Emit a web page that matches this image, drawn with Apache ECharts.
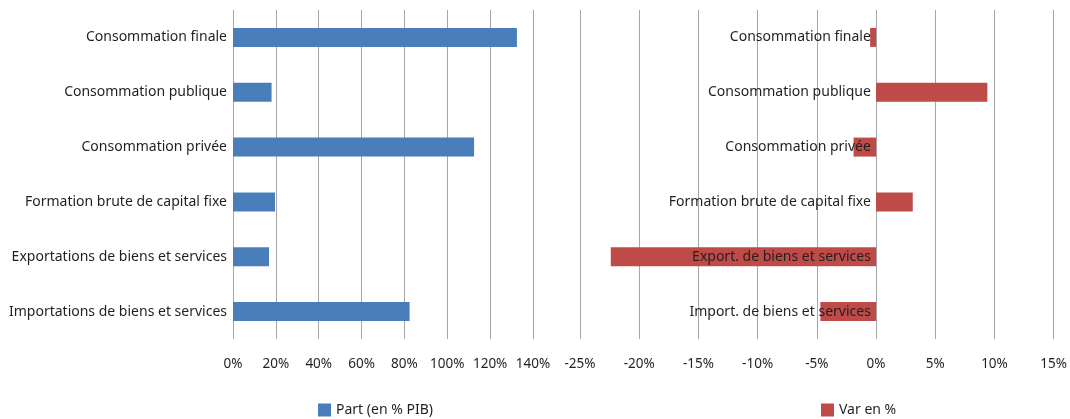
<!DOCTYPE html>
<html><head><meta charset="utf-8">
<script src="https://cdn.jsdelivr.net/npm/echarts@6/dist/echarts.min.js"></script>
<style>html,body{margin:0;padding:0;background:#fff}#c{width:1070px;height:419px}</style>
</head><body><div id="c"></div>
<script>
const categoriesLeft = ['Consommation finale','Consommation publique','Consommation privée','Formation brute de capital fixe','Exportations de biens et services','Importations de biens et services'];
const categoriesRight = ['Consommation finale','Consommation publique','Consommation privée','Formation brute de capital fixe','Export. de biens et services','Import. de biens et services'];
const partPIB = [132.5, 18, 112.5, 19.6, 16.8, 82.4];
const varPct = [-0.5, 9.4, -1.9, 3.1, -22.4, -4.7];
const seriesNames = ['Part (en % PIB)', 'Var en %'];

const FONT = 'Noto Sans';
const TXT = '#231f20';
const GRID = '#a6a6a6';
const RMIN = -25, RMAX = 15, RW = 475;
const chart = echarts.init(document.getElementById('c'));
chart.setOption({
  animation: false,
  textStyle: {fontFamily: FONT},
  grid: [
    {left: 233, width: 300, top: 10, height: 329},
    {left: 580, width: RW, top: 10, height: 329}
  ],
  xAxis: [
    {gridIndex: 0, type: 'value', min: 0, max: 140, interval: 20,
     axisLine: {show: false}, axisTick: {show: false},
     splitLine: {show: true, lineStyle: {color: GRID, width: 1}},
     axisLabel: {formatter: '{value}%', color: TXT, fontSize: 13.5, fontFamily: FONT, margin: 18}},
    {gridIndex: 1, type: 'value', min: RMIN, max: RMAX, interval: 5,
     axisLine: {show: false}, axisTick: {show: false},
     splitLine: {show: true, lineStyle: {color: GRID, width: 1}},
     axisLabel: {formatter: '{value}%', color: TXT, fontSize: 13.5, fontFamily: FONT, margin: 18}}
  ],
  yAxis: [
    {gridIndex: 0, type: 'category', inverse: true, data: categoriesLeft, z: 5,
     axisLine: {show: false}, axisTick: {show: false},
     axisLabel: {color: TXT, fontSize: 14, fontFamily: FONT, margin: 6}},
    {gridIndex: 1, type: 'category', inverse: true, data: categoriesRight, z: 5,
     offset: -(0 - RMIN) / (RMAX - RMIN) * RW,
     axisLine: {show: false}, axisTick: {show: false},
     axisLabel: {color: TXT, fontSize: 14, fontFamily: FONT, margin: 6}}
  ],
  legend: [
    {data: [seriesNames[0]], left: 313, top: 398, itemWidth: 13, itemHeight: 13, itemGap: 7,
     textStyle: {color: TXT, fontSize: 14, fontFamily: FONT}, icon: 'rect'},
    {data: [seriesNames[1]], left: 816, top: 398, itemWidth: 13, itemHeight: 13, itemGap: 7,
     textStyle: {color: TXT, fontSize: 14, fontFamily: FONT}, icon: 'rect'}
  ],
  series: [
    {name: seriesNames[0], type: 'bar', xAxisIndex: 0, yAxisIndex: 0, data: partPIB,
     barWidth: 19, itemStyle: {color: '#4a7ebb'}},
    {name: seriesNames[1], type: 'bar', xAxisIndex: 1, yAxisIndex: 1, data: varPct,
     barWidth: 19, itemStyle: {color: '#be4b48'}}
  ]
});
</script></body></html>
